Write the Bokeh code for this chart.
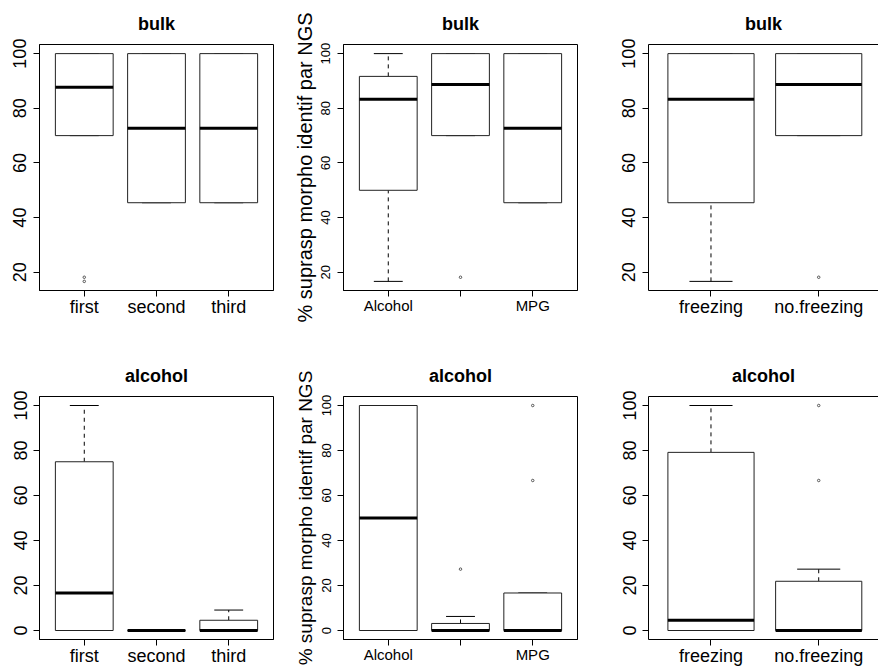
from bokeh.plotting import figure
from bokeh.layouts import gridplot
from bokeh.models import FixedTicker, LinearAxis, Range1d, ColumnDataSource
from bokeh.embed import file_html
from bokeh.resources import INLINE

FONT = "Liberation Sans"

# ---------------- data ----------------
order_cats = ["first", "second", "third"]
fixative_cats = ["Alcohol", "", "MPG"]
freezing_cats = ["freezing", "no.freezing"]

top_yticks = [20, 40, 60, 80, 100]
bottom_yticks = [0, 20, 40, 60, 80, 100]

ylab = "% suprasp morpho identif par NGS"

# bulk / order
bulk_order_lo = [70, 45.45, 45.45]
bulk_order_q1 = [70, 45.45, 45.45]
bulk_order_med = [87.7, 72.73, 72.73]
bulk_order_q3 = [100, 100, 100]
bulk_order_hi = [100, 100, 100]
bulk_order_out_grp = [1, 1]
bulk_order_out_val = [16.67, 18.18]

# bulk / fixative
bulk_fix_lo = [16.67, 70, 45.45]
bulk_fix_q1 = [50, 70, 45.45]
bulk_fix_med = [83.33, 88.7, 72.73]
bulk_fix_q3 = [91.67, 100, 100]
bulk_fix_hi = [100, 100, 100]
bulk_fix_out_grp = [2]
bulk_fix_out_val = [18.18]

# bulk / freezing
bulk_frz_lo = [16.67, 70]
bulk_frz_q1 = [45.45, 70]
bulk_frz_med = [83.33, 88.7]
bulk_frz_q3 = [100, 100]
bulk_frz_hi = [100, 100]
bulk_frz_out_grp = [2]
bulk_frz_out_val = [18.18]

# alcohol / order
alc_order_lo = [0, 0, 0]
alc_order_q1 = [0, 0, 0]
alc_order_med = [16.67, 0, 0]
alc_order_q3 = [75, 0, 4.55]
alc_order_hi = [100, 0, 9.09]
alc_order_out_grp = []
alc_order_out_val = []

# alcohol / fixative
alc_fix_lo = [0, 0, 0]
alc_fix_q1 = [0, 0, 0]
alc_fix_med = [50, 0, 0]
alc_fix_q3 = [100, 3.13, 16.67]
alc_fix_hi = [100, 6.25, 16.67]
alc_fix_out_grp = [2, 3, 3]
alc_fix_out_val = [27.27, 66.67, 100]

# alcohol / freezing
alc_frz_lo = [0, 0]
alc_frz_q1 = [0, 0]
alc_frz_med = [4.55, 0]
alc_frz_q3 = [79.17, 21.88]
alc_frz_hi = [100, 27.27]
alc_frz_out_grp = [2, 2]
alc_frz_out_val = [66.67, 100]


def make_panel(title, cats, lo, q1, med, q3, hi, out_grp, out_val, yticks,
               width, height, bl, br, bt, bb, ytick_px, xtick_px,
               ytick_standoff=7, ylabel=None, ylabel_px="20px",
               open_right=False, ref_frame_w=232.7):
    n = len(cats)
    pos = list(range(1, n + 1))
    ymin = min(list(lo) + list(out_val))
    ymax = max(list(hi) + list(out_val))
    ypad = 0.04 * (ymax - ymin)
    x0 = 0.5 - 0.04 * n
    x1 = n + 0.5 + 0.04 * n
    frame_w = width - bl - br
    if open_right:
        x1 = x0 + (x1 - x0) * frame_w / ref_frame_w

    p = figure(width=width, height=height,
               x_range=Range1d(x0, x1), y_range=Range1d(ymin - ypad, ymax + ypad),
               output_backend="svg", toolbar_location=None,
               min_border_left=bl, min_border_right=br,
               min_border_top=bt, min_border_bottom=bb,
               background_fill_color="white", border_fill_color="white")
    p.xgrid.visible = False
    p.ygrid.visible = False

    half = 0.4
    staple = 0.2
    src = ColumnDataSource(dict(
        x=pos, left=[v - half for v in pos], right=[v + half for v in pos],
        sl=[v - staple for v in pos], sr=[v + staple for v in pos],
        lo=lo, q1=q1, med=med, q3=q3, hi=hi))

    p.segment(x0="x", y0="q3", x1="x", y1="hi", source=src,
              line_color="black", line_width=1, line_dash="4 4")
    p.segment(x0="x", y0="lo", x1="x", y1="q1", source=src,
              line_color="black", line_width=1, line_dash="4 4")
    p.segment(x0="sl", y0="hi", x1="sr", y1="hi", source=src,
              line_color="black", line_width=1)
    p.segment(x0="sl", y0="lo", x1="sr", y1="lo", source=src,
              line_color="black", line_width=1)
    p.quad(left="left", right="right", bottom="q1", top="q3", source=src,
           fill_color="white", line_color="#222222", line_width=1)
    p.segment(x0="left", y0="med", x1="right", y1="med", source=src,
              line_color="black", line_width=3)
    if len(out_grp):
        p.scatter(x=out_grp, y=out_val, marker="circle", size=2.5,
                  fill_color=None, line_color="#555555", line_width=1)

    xa = p.xaxis[0]
    ya = p.yaxis[0]
    xa.ticker = FixedTicker(ticks=pos)
    xa.major_label_overrides = {v: c for v, c in zip(pos, cats)}
    ya.ticker = FixedTicker(ticks=yticks)
    for ax in (xa, ya):
        ax.axis_line_color = "black"
        ax.axis_line_width = 1
        ax.major_tick_line_color = "black"
        ax.major_tick_in = 0
        ax.major_tick_out = 6
        ax.minor_tick_line_color = None
        ax.major_label_text_font = FONT
        ax.major_label_text_color = "black"
    xa.major_label_text_font_size = xtick_px
    xa.major_label_standoff = 0
    ya.major_label_text_font_size = ytick_px
    ya.major_label_orientation = "vertical"
    ya.major_label_standoff = ytick_standoff
    if ylabel:
        ya.axis_label = ylabel
        ya.axis_label_text_font = FONT
        ya.axis_label_text_font_size = ylabel_px
        ya.axis_label_text_font_style = "normal"
        ya.axis_label_text_color = "black"
        ya.axis_label_standoff = 3

    if open_right:
        p.outline_line_color = None
        top = LinearAxis(ticker=FixedTicker(ticks=[]), axis_line_color="black",
                         major_tick_line_color=None, minor_tick_line_color=None,
                         major_label_text_font_size="0px")
        p.add_layout(top, "above")
    else:
        p.outline_line_color = "black"
        p.outline_line_width = 1
        p.outline_line_alpha = 1

    p.title.text = title
    p.title.align = "center"
    p.title.text_font = FONT
    p.title.text_font_size = "18px"
    p.title.text_font_style = "bold"
    p.title.text_color = "black"
    p.title.standoff = 21
    return p


# column widths / borders (page is drawn from the top-left corner)
C1 = dict(width=288, bl=39, br=15)
C2 = dict(width=325, bl=55, br=36)
C3 = dict(width=265, bl=35, br=0)
R1 = dict(height=345, bt=44, bb=55)
R2 = dict(height=323, bt=51, bb=27)

p1 = make_panel("bulk", order_cats, bulk_order_lo, bulk_order_q1, bulk_order_med,
                bulk_order_q3, bulk_order_hi, bulk_order_out_grp, bulk_order_out_val,
                top_yticks, ytick_px="18px", xtick_px="18px", **C1, **R1)
p2 = make_panel("bulk", fixative_cats, bulk_fix_lo, bulk_fix_q1, bulk_fix_med,
                bulk_fix_q3, bulk_fix_hi, bulk_fix_out_grp, bulk_fix_out_val,
                top_yticks, ytick_px="13px", xtick_px="15px", ytick_standoff=7,
                ylabel=ylab, ylabel_px="20px", **C2, **R1)
p3 = make_panel("bulk", freezing_cats, bulk_frz_lo, bulk_frz_q1, bulk_frz_med,
                bulk_frz_q3, bulk_frz_hi, bulk_frz_out_grp, bulk_frz_out_val,
                top_yticks, ytick_px="18px", xtick_px="18px", open_right=True, **C3, **R1)
p4 = make_panel("alcohol", order_cats, alc_order_lo, alc_order_q1, alc_order_med,
                alc_order_q3, alc_order_hi, alc_order_out_grp, alc_order_out_val,
                bottom_yticks, ytick_px="18px", xtick_px="18px", **C1, **R2)
p5 = make_panel("alcohol", fixative_cats, alc_fix_lo, alc_fix_q1, alc_fix_med,
                alc_fix_q3, alc_fix_hi, alc_fix_out_grp, alc_fix_out_val,
                bottom_yticks, ytick_px="13px", xtick_px="15px", ytick_standoff=7,
                ylabel=ylab, ylabel_px="19px", **C2, **R2)
p6 = make_panel("alcohol", freezing_cats, alc_frz_lo, alc_frz_q1, alc_frz_med,
                alc_frz_q3, alc_frz_hi, alc_frz_out_grp, alc_frz_out_val,
                bottom_yticks, ytick_px="18px", xtick_px="18px", open_right=True, **C3, **R2)

grid = gridplot([[p1, p2, p3], [p4, p5, p6]], toolbar_location=None)

open("out.html", "w").write(file_html(grid, INLINE))
